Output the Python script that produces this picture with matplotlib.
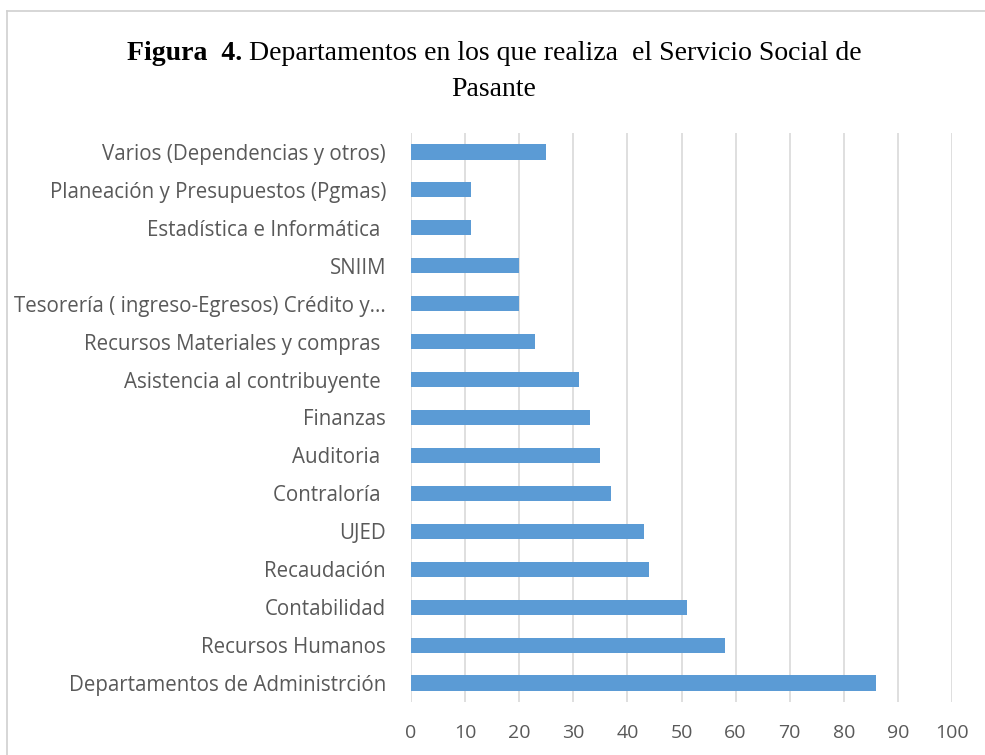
import matplotlib
matplotlib.use("Agg")
import numpy as np
from matplotlib import pyplot as plt

categories = [
    "Departamentos de Administrción",
    "Recursos Humanos",
    "Contabilidad",
    "Recaudación",
    "UJED",
    "Contraloría ",
    "Auditoria ",
    "Finanzas",
    "Asistencia al contribuyente ",
    "Recursos Materiales y compras ",
    "Tesorería ( ingreso-Egresos) Crédito y...",
    "SNIIM",
    "Estadística e Informática ",
    "Planeación y Presupuestos (Pgmas)",
    "Varios (Dependencias y otros)",
]
values = [86, 58, 51, 44, 43, 37, 35, 33, 31, 23, 20, 20, 11, 11, 25]
xticks = list(range(0, 101, 10))

W, H = 985, 755
fig = plt.figure(figsize=(W / 100, H / 100), dpi=100)
ax = fig.add_axes([411 / W, 1 - 702 / H, (952 - 411) / W, (702 - 133) / H])

y = np.arange(len(categories))
ax.barh(y, values, height=0.4, color="#5b9bd5", zorder=3)
ax.set_ylim(-0.5, len(categories) - 0.5)
ax.set_xlim(0, 100)
ax.set_xticks(xticks)
ax.set_yticks(y)
ax.set_yticklabels(categories, fontsize=14.8, color="#595959", family="Open Sans")
for lab in ax.get_xticklabels():
    lab.set_fontsize(14)
    lab.set_color("#595959")
    lab.set_family("Open Sans")
ax.tick_params(axis="y", length=0, pad=18)
ax.tick_params(axis="x", length=0, pad=16)
ax.grid(axis="x", color="#d9d9d9", linewidth=1.2, zorder=0)
for s in ax.spines.values():
    s.set_visible(False)

# title: bold "Figura 4." followed by regular text
fig.canvas.draw()
r = fig.canvas.get_renderer()
t1 = fig.text(0, 0, "Figura  4.", fontsize=20, family="Liberation Serif", weight="bold")
t2 = fig.text(0, 0, " Departamentos en los que realiza  el Servicio Social de",
              fontsize=20, family="Liberation Serif")
w1 = t1.get_window_extent(r).width
w2 = t2.get_window_extent(r).width
x0 = (494 - (w1 + w2) / 2) / W
ty = 1 - 60 / H
t1.set_position((x0, ty))
t2.set_position((x0 + w1 / W, ty))
fig.text(494 / W, 1 - 96 / H, "Pasante", fontsize=20, family="Liberation Serif", ha="center")

# light frame lines at left/top
fig.add_artist(plt.Line2D([7 / W, 7 / W], [0, 1 - 11 / H], color="#d0d0d0", lw=1.2))
fig.add_artist(plt.Line2D([7 / W, 1], [1 - 11 / H, 1 - 11 / H], color="#d0d0d0", lw=1.2))

fig.savefig("out.png", dpi=100)
